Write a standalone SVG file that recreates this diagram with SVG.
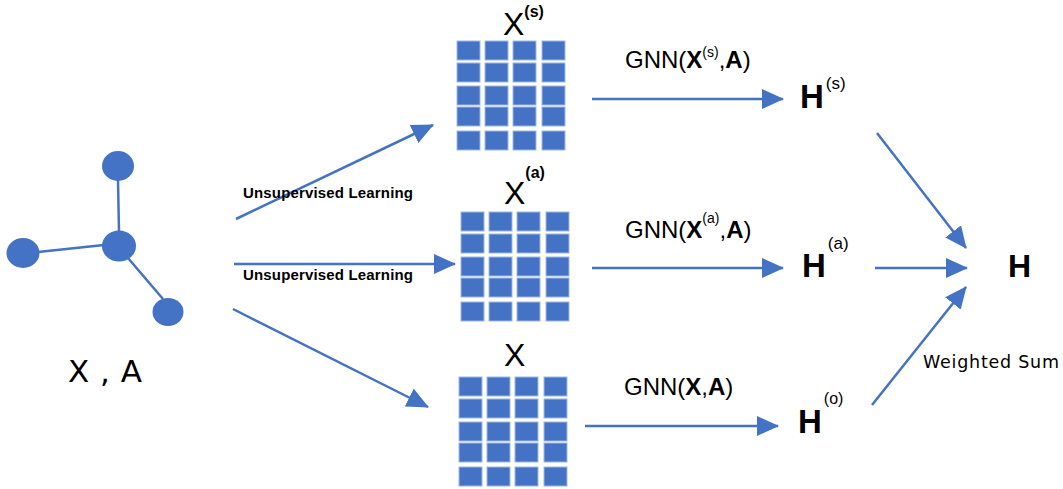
<svg xmlns="http://www.w3.org/2000/svg" width="1063" height="489" viewBox="0 0 1063 489">
<style>
.cn{stroke:#4472C4;stroke-width:2.5;fill:none}
.nd{fill:#4472C4}
.sq{fill:#4472C4;stroke:#9fb7e2;stroke-width:1}
.t{font-family:"Liberation Sans",Arial,sans-serif;fill:#000}
.d{font-family:"DejaVu Sans",sans-serif;fill:#000}
.b{font-weight:bold}
</style>
<defs>
<marker id="ah" markerUnits="userSpaceOnUse" markerWidth="22" markerHeight="20" refX="21" refY="10" orient="auto">
<path d="M0,0 L22,10 L0,20 z" fill="#4472C4"/>
</marker>
<g id="mat">
<rect class="sq" x="0" y="0" width="23" height="19"/><rect class="sq" x="28" y="0" width="23" height="19"/><rect class="sq" x="56" y="0" width="23" height="19"/><rect class="sq" x="85" y="0" width="23" height="19"/>
<rect class="sq" x="0" y="22" width="23" height="19"/><rect class="sq" x="28" y="22" width="23" height="19"/><rect class="sq" x="56" y="22" width="23" height="19"/><rect class="sq" x="85" y="22" width="23" height="19"/>
<rect class="sq" x="0" y="45" width="23" height="19"/><rect class="sq" x="28" y="45" width="23" height="19"/><rect class="sq" x="56" y="45" width="23" height="19"/><rect class="sq" x="85" y="45" width="23" height="19"/>
<rect class="sq" x="0" y="66" width="23" height="19"/><rect class="sq" x="28" y="66" width="23" height="19"/><rect class="sq" x="56" y="66" width="23" height="19"/><rect class="sq" x="85" y="66" width="23" height="19"/>
<rect class="sq" x="0" y="90" width="23" height="19"/><rect class="sq" x="28" y="90" width="23" height="19"/><rect class="sq" x="56" y="90" width="23" height="19"/><rect class="sq" x="85" y="90" width="23" height="19"/>
</g>
</defs>
<rect width="1063" height="489" fill="#fff"/>

<g id="graph">
<line class="cn" x1="118" y1="180" x2="119" y2="232"/>
<line class="cn" x1="38" y1="252" x2="104" y2="245"/>
<line class="cn" x1="128" y1="258" x2="163" y2="299"/>
<ellipse class="nd" cx="118" cy="166" rx="16" ry="15"/>
<ellipse class="nd" cx="119" cy="246" rx="17" ry="15.5"/>
<ellipse class="nd" cx="23" cy="253" rx="16.5" ry="15"/>
<ellipse class="nd" cx="168" cy="312" rx="15.5" ry="14"/>
<text class="d" x="68" y="382" font-size="31" textLength="74">X , A</text>
</g>

<g id="xs">
<use href="#mat" x="457" y="41"/>
<text class="t" x="503" y="35" font-size="32">X<tspan class="b" font-size="16" dy="-18">(s)</tspan></text>
</g>
<g id="xa">
<use href="#mat" x="461" y="212"/>
<text class="t" x="504" y="204" font-size="32">X<tspan class="b" font-size="16" dy="-26">(a)</tspan></text>
</g>
<g id="xo">
<use href="#mat" x="459" y="377"/>
<text class="t" x="504" y="366" font-size="32">X</text>
</g>

<g id="hs"><text class="t b" x="800" y="108" font-size="33">H<tspan font-weight="normal" font-size="17" dy="-19" dx="2">(s)</tspan></text></g>
<g id="ha"><text class="t b" x="802" y="277" font-size="33">H<tspan font-weight="normal" font-size="17" dy="-28" dx="2">(a)</tspan></text></g>
<g id="ho"><text class="t b" x="798" y="433" font-size="33">H<tspan font-weight="normal" font-size="16" dy="-29" dx="2">(o)</tspan></text></g>
<g id="h"><text class="t b" x="1008" y="277" font-size="32">H</text></g>

<g id="connectors">
<line class="cn" x1="236" y1="219" x2="433" y2="125" marker-end="url(#ah)"/>
<line class="cn" x1="234" y1="264" x2="455" y2="264" marker-end="url(#ah)"/>
<line class="cn" x1="233" y1="309" x2="428" y2="407" marker-end="url(#ah)"/>
<line class="cn" x1="592" y1="99" x2="783" y2="99" marker-end="url(#ah)"/>
<line class="cn" x1="592" y1="268" x2="783" y2="268" marker-end="url(#ah)"/>
<line class="cn" x1="585" y1="426" x2="778" y2="426" marker-end="url(#ah)"/>
<line class="cn" x1="877" y1="133" x2="966" y2="248" marker-end="url(#ah)"/>
<line class="cn" x1="875" y1="268" x2="967" y2="268" marker-end="url(#ah)"/>
<line class="cn" x1="872" y1="405" x2="966" y2="287" marker-end="url(#ah)"/>
</g>

<g id="labels">
<text class="t b" x="243" y="198" font-size="15" textLength="170">Unsupervised Learning</text>
<text class="t b" x="243" y="280" font-size="15" textLength="170">Unsupervised Learning</text>
<text class="t" x="625" y="68" font-size="24">GNN(<tspan class="b">X</tspan><tspan font-size="14" dy="-11">(s)</tspan><tspan dy="11">,</tspan><tspan class="b">A</tspan>)</text>
<text class="t" x="625" y="238" font-size="24">GNN(<tspan class="b">X</tspan><tspan font-size="14" dy="-15">(a)</tspan><tspan dy="15">,</tspan><tspan class="b">A</tspan>)</text>
<text class="t" x="624" y="395" font-size="24">GNN(<tspan class="b">X</tspan>,<tspan class="b">A</tspan>)</text>
<text class="d" x="923" y="368" font-size="17.5" textLength="136">Weighted Sum</text>
</g>
</svg>
